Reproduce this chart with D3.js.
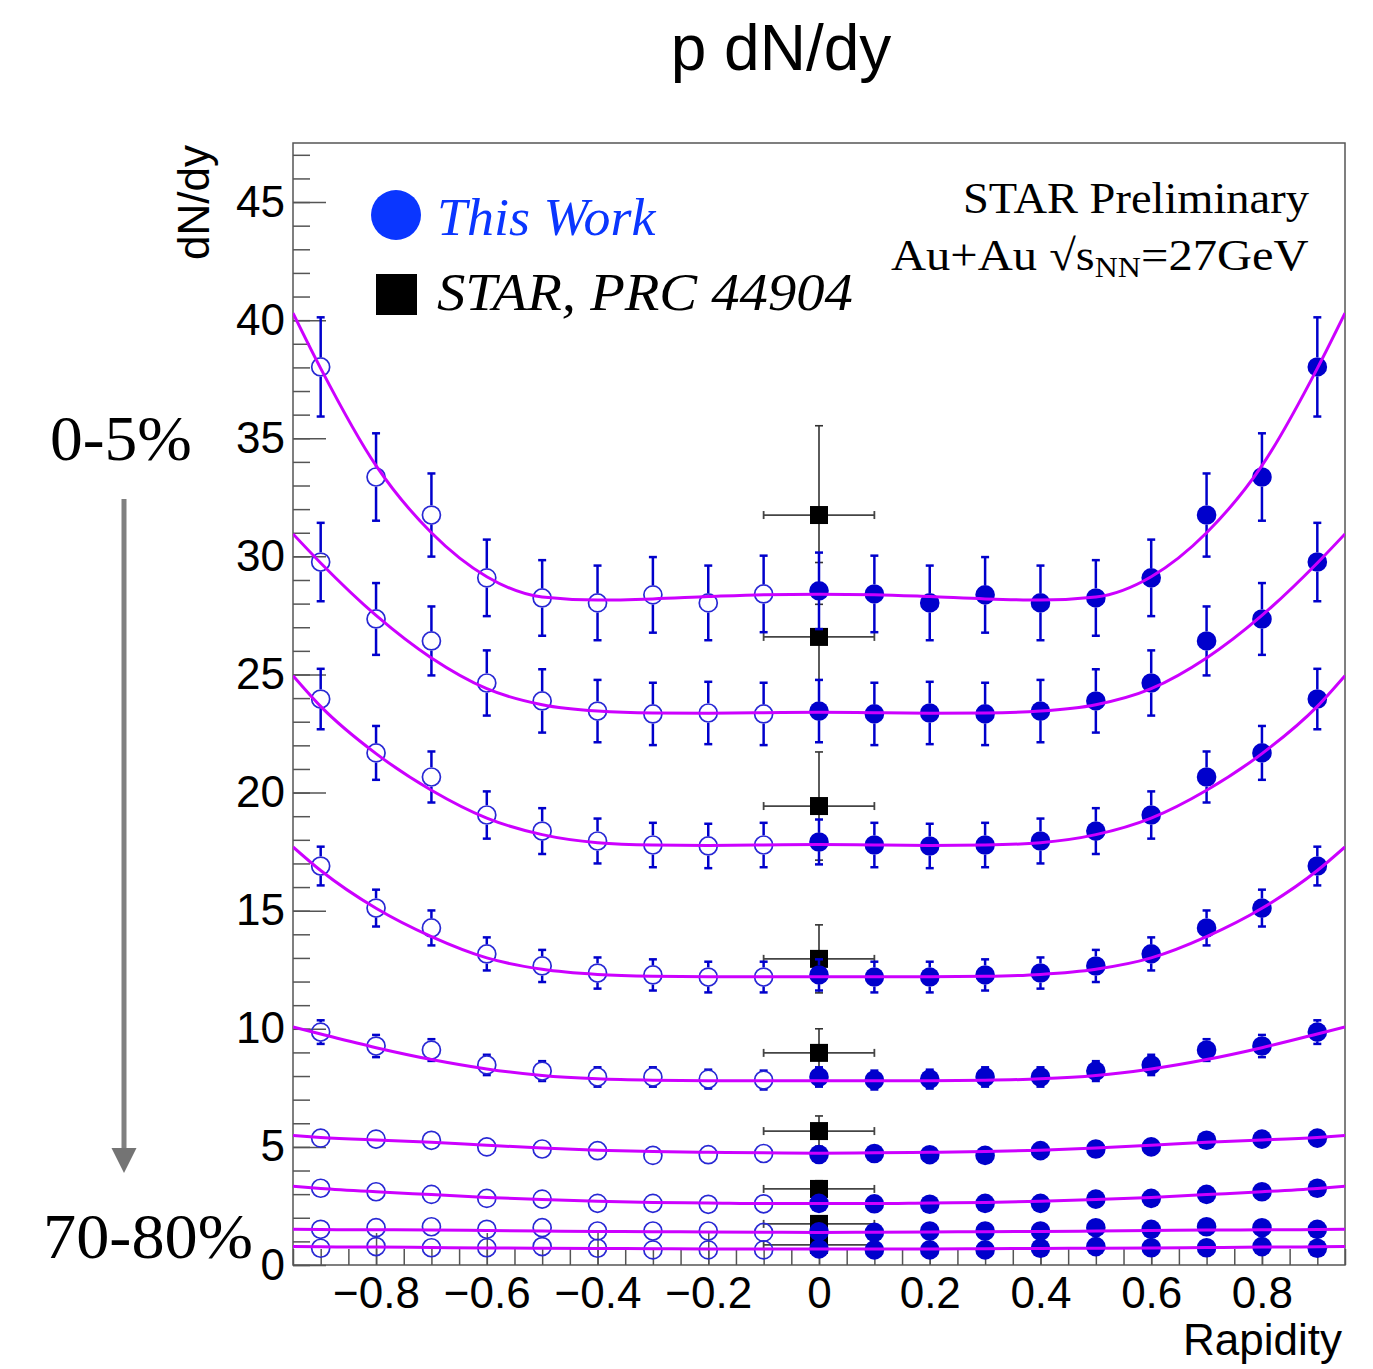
<!DOCTYPE html>
<html><head><meta charset="utf-8">
<script src="https://cdn.jsdelivr.net/npm/d3@7"></script>
<style>body{margin:0;background:#fff} svg{display:block}</style>
</head><body>
<svg id="chart" width="1373" height="1369"></svg>
<script>
// ---------- data ----------
const rapidity = [0, 0.1, 0.2, 0.3, 0.4, 0.5, 0.6, 0.7, 0.8, 0.9];
const reflectedRapidity = [-0.1, -0.2, -0.3, -0.4, -0.5, -0.6, -0.7, -0.8, -0.9];
const centralityLabels = ["0-5%", "5-10%", "10-20%", "20-30%", "30-40%", "40-50%", "50-60%", "60-70%", "70-80%"];

const dndy_0_5   = [28.54, 28.41, 28.03, 28.37, 28.03, 28.24, 29.09, 31.75, 33.36, 38.02];
const err_0_5    = [1.62, 1.62, 1.58, 1.60, 1.58, 1.60, 1.62, 1.76, 1.85, 2.10];
const dndy_5_10  = [23.45, 23.33, 23.37, 23.33, 23.45, 23.88, 24.64, 26.42, 27.35, 29.76];
const err_5_10   = [1.32, 1.32, 1.32, 1.32, 1.32, 1.34, 1.38, 1.46, 1.52, 1.66];
const dndy_10_20 = [17.91, 17.78, 17.74, 17.78, 17.95, 18.37, 19.05, 20.66, 21.68, 23.96];
const err_10_20  = [0.95, 0.94, 0.94, 0.94, 0.95, 0.97, 1.00, 1.08, 1.14, 1.28];
const dndy_20_30 = [12.28, 12.19, 12.19, 12.28, 12.36, 12.66, 13.17, 14.27, 15.11, 16.89];
const err_20_30  = [0.66, 0.65, 0.65, 0.66, 0.66, 0.68, 0.70, 0.74, 0.78, 0.82];
const dndy_30_40 = [7.96, 7.83, 7.87, 7.96, 7.96, 8.21, 8.47, 9.10, 9.27, 9.86];
const err_30_40  = [0.41, 0.40, 0.40, 0.41, 0.41, 0.42, 0.43, 0.46, 0.47, 0.50];
const dndy_40_50 = [4.68, 4.72, 4.67, 4.64, 4.84, 4.91, 5.00, 5.28, 5.33, 5.37];
const err_40_50  = [0.24, 0.24, 0.24, 0.24, 0.25, 0.25, 0.26, 0.27, 0.27, 0.28];
const dndy_50_60 = [2.61, 2.59, 2.57, 2.61, 2.61, 2.79, 2.82, 2.99, 3.10, 3.25];
const err_50_60  = [0.13, 0.13, 0.13, 0.13, 0.13, 0.14, 0.14, 0.15, 0.15, 0.16];
const dndy_60_70 = [1.41, 1.38, 1.44, 1.44, 1.44, 1.58, 1.51, 1.62, 1.58, 1.51];
const err_60_70  = [0.07, 0.07, 0.07, 0.07, 0.07, 0.08, 0.08, 0.08, 0.08, 0.08];
const dndy_70_80 = [0.68, 0.64, 0.64, 0.64, 0.71, 0.78, 0.73, 0.73, 0.78, 0.71];
const err_70_80  = [0.04, 0.04, 0.04, 0.04, 0.04, 0.04, 0.04, 0.04, 0.04, 0.04];

// fit curves, read at these rapidities (symmetric in y)
const fitRapidity = [0, 0.1, 0.2, 0.3, 0.4, 0.5, 0.6, 0.7, 0.8, 0.9, 0.95];
const fit_0_5   = [28.40, 28.38, 28.30, 28.20, 28.15, 28.28, 29.14, 31.00, 33.84, 37.96, 40.30];
const fit_5_10  = [23.40, 23.38, 23.36, 23.37, 23.45, 23.72, 24.40, 25.70, 27.50, 29.72, 30.95];
const fit_10_20 = [17.80, 17.78, 17.76, 17.78, 17.88, 18.22, 18.92, 20.10, 21.65, 23.65, 24.95];
const fit_20_30 = [12.20, 12.20, 12.20, 12.22, 12.30, 12.52, 13.00, 13.90, 15.10, 16.70, 17.70];
const fit_30_40 = [7.80, 7.80, 7.80, 7.82, 7.88, 8.02, 8.30, 8.70, 9.20, 9.78, 10.08];
const fit_40_50 = [4.73, 4.75, 4.77, 4.80, 4.86, 4.95, 5.07, 5.20, 5.29, 5.40, 5.48];
const fit_50_60 = [2.60, 2.60, 2.63, 2.65, 2.70, 2.77, 2.86, 2.98, 3.10, 3.24, 3.33];
const fit_60_70 = [1.38, 1.39, 1.40, 1.41, 1.42, 1.44, 1.46, 1.48, 1.49, 1.50, 1.51];
const fit_70_80 = [0.68, 0.68, 0.68, 0.69, 0.70, 0.71, 0.72, 0.74, 0.76, 0.77, 0.78];

// STAR PRC published, at y = 0 (+-0.1 rapidity window)
const starRapidity = 0;
const starWindow = 0.1;
const starValues = [31.75, 26.59, 19.43, 12.96, 8.98, 5.67, 3.22, 1.74, 0.85];
const starErrors = [3.78, 3.15, 2.29, 1.44, 1.02, 0.64, 0.35, 0.20, 0.10];

const yTickValues = [0, 5, 10, 15, 20, 25, 30, 35, 40, 45];
const xTickValues = [-0.8, -0.6, -0.4, -0.2, 0, 0.2, 0.4, 0.6, 0.8];

const series = [
  [dndy_0_5, err_0_5, fit_0_5], [dndy_5_10, err_5_10, fit_5_10], [dndy_10_20, err_10_20, fit_10_20],
  [dndy_20_30, err_20_30, fit_20_30], [dndy_30_40, err_30_40, fit_30_40], [dndy_40_50, err_40_50, fit_40_50],
  [dndy_50_60, err_50_60, fit_50_60], [dndy_60_70, err_60_70, fit_60_70], [dndy_70_80, err_70_80, fit_70_80]
];

// ---------- drawing ----------
const svg = d3.select("#chart");
const SANS = "'Liberation Sans', Arial, Helvetica, sans-serif";
const SERIF = "'Liberation Serif', 'Times New Roman', serif";
const L = 293, R = 1345, T = 143, B = 1265;
const x = d3.scaleLinear().domain([-0.95, 0.95]).range([L, R]);
const y = d3.scaleLinear().domain([0, 47.5]).range([B, T]);

svg.append("rect").attr("width", 1373).attr("height", 1369).attr("fill", "#fff");
svg.append("defs").append("clipPath").attr("id", "clip")
  .append("rect").attr("x", L).attr("y", T).attr("width", R - L).attr("height", B - T);

const AX = "#555";
// y axis minor / major ticks
const yMinor = d3.axisLeft(y).tickValues(d3.range(0, 48, 1)).tickSize(-17).tickFormat("");
const yMajor = d3.axisLeft(y).tickValues(yTickValues).tickSize(-33).tickFormat(d3.format("d"));
const gyMin = svg.append("g").attr("transform", `translate(${L},0)`).call(yMinor);
const gyMaj = svg.append("g").attr("transform", `translate(${L},0)`).call(yMajor);
[gyMin, gyMaj].forEach(g => { g.select(".domain").remove(); g.selectAll("line").attr("stroke", AX).attr("stroke-width", 1.5); });
gyMaj.selectAll("text").attr("x", -8).attr("font-family", SANS).attr("font-size", 44).attr("fill", "#000");

// x axis
const xMinor = d3.axisBottom(x).tickValues(d3.range(-19, 20).map(i => i * 0.05)).tickSize(-16).tickFormat("");
const fmtX = d => d === 0 ? "0" : (d < 0 ? "\u2212" : "") + Math.abs(d).toFixed(1);
const xMajor = d3.axisBottom(x).tickValues(xTickValues).tickSize(-32).tickFormat(fmtX);
const gxMin = svg.append("g").attr("transform", `translate(0,${B})`).call(xMinor);
const gxMaj = svg.append("g").attr("transform", `translate(0,${B})`).call(xMajor);
[gxMin, gxMaj].forEach(g => { g.select(".domain").remove(); g.selectAll("line").attr("stroke", AX).attr("stroke-width", 1.5); });
gxMaj.selectAll("text").attr("y", 12).attr("font-family", SANS).attr("font-size", 44).attr("fill", "#000");

// frame
svg.append("rect").attr("x", L).attr("y", T).attr("width", R - L).attr("height", B - T)
  .attr("fill", "none").attr("stroke", AX).attr("stroke-width", 1.5);

const plot = svg.append("g").attr("clip-path", "url(#clip)");

// STAR points (drawn first)
const starG = plot.append("g");
starValues.forEach((v, i) => {
  const cx = x(starRapidity), cy = y(v);
  const e = starErrors[i];
  starG.append("line").attr("x1", x(starRapidity - starWindow)).attr("x2", x(starRapidity + starWindow))
    .attr("y1", cy).attr("y2", cy).attr("stroke", "#444").attr("stroke-width", 1.8);
  [starRapidity - starWindow, starRapidity + starWindow].forEach(xe =>
    starG.append("line").attr("x1", x(xe)).attr("x2", x(xe)).attr("y1", cy - 4).attr("y2", cy + 4)
      .attr("stroke", "#444").attr("stroke-width", 1.8));
  starG.append("line").attr("x1", cx).attr("x2", cx).attr("y1", y(v + e)).attr("y2", y(v - e))
    .attr("stroke", "#333").attr("stroke-width", 1.6);
  [v + e, v - e].forEach(ve =>
    starG.append("line").attr("x1", cx - 4).attr("x2", cx + 4).attr("y1", y(ve)).attr("y2", y(ve))
      .attr("stroke", "#333").attr("stroke-width", 1.6));
  starG.append("rect").attr("x", cx - 9).attr("y", cy - 9).attr("width", 18).attr("height", 18).attr("fill", "#000");
});

// This work points
const BLUE = "#0000cc";
const RF = 9.8, RO = 9.0;
const ptsG = plot.append("g");
function errBar(g, cx, v, e, r) {
  const yt = y(v + e), yb = y(v - e), cy = y(v);
  if (cy - yt > r - 1) {
    g.append("line").attr("x1", cx).attr("x2", cx).attr("y1", yt).attr("y2", cy - r).attr("stroke", BLUE).attr("stroke-width", 2.5);
    g.append("line").attr("x1", cx - 4).attr("x2", cx + 4).attr("y1", yt).attr("y2", yt).attr("stroke", BLUE).attr("stroke-width", 2.5);
  }
  if (yb - cy > r - 1) {
    g.append("line").attr("x1", cx).attr("x2", cx).attr("y1", cy + r).attr("y2", yb).attr("stroke", BLUE).attr("stroke-width", 2.5);
    g.append("line").attr("x1", cx - 4).attr("x2", cx + 4).attr("y1", yb).attr("y2", yb).attr("stroke", BLUE).attr("stroke-width", 2.5);
  }
}
series.forEach(([vals, errs]) => {
  // open markers: reflected rapidity
  reflectedRapidity.forEach((ry, k) => {
    const v = vals[k + 1], e = errs[k + 1];
    errBar(ptsG, x(ry), v, e, RO + 0.8);
    ptsG.append("circle").attr("cx", x(ry)).attr("cy", y(v)).attr("r", RO)
      .attr("fill", "none").attr("stroke", "#2828d4").attr("stroke-width", 1.7);
  });
  // filled markers
  rapidity.forEach((ry, k) => {
    const v = vals[k], e = errs[k];
    errBar(ptsG, x(ry), v, e, RF);
    ptsG.append("circle").attr("cx", x(ry)).attr("cy", y(v)).attr("r", RF).attr("fill", BLUE);
  });
});

// fit curves
const line = d3.line().x(d => x(d[0])).y(d => y(d[1])).curve(d3.curveMonotoneX);
series.forEach(([, , fit]) => {
  const pts = [];
  for (let k = fitRapidity.length - 1; k > 0; k--) pts.push([-fitRapidity[k], fit[k]]);
  fitRapidity.forEach((r, k) => pts.push([r, fit[k]]));
  plot.append("path").attr("d", line(pts)).attr("fill", "none").attr("stroke", "#cc00ff").attr("stroke-width", 3);
});

// ---------- texts ----------
function fitWidth(sel, x0, targetW) {
  const bb = sel.node().getBBox();
  const s = targetW / bb.width;
  sel.attr("transform", `translate(${x0},0) scale(${s},1) translate(${-bb.x},0)`);
}

svg.append("text").attr("x", 781).attr("y", 70).attr("text-anchor", "middle").attr("font-family", SANS)
  .attr("font-size", 64).attr("fill", "#000").text("p dN/dy");

svg.append("text").attr("transform", "translate(209,145) rotate(-90)").attr("text-anchor", "end")
  .attr("font-family", SANS).attr("font-size", 44).attr("fill", "#000").text("dN/dy");

svg.append("text").attr("x", 1342).attr("y", 1355).attr("text-anchor", "end")
  .attr("font-family", SANS).attr("font-size", 44).attr("fill", "#000").text("Rapidity");

// legend
const LBLUE = "#0a36ff";
svg.append("circle").attr("cx", 396).attr("cy", 215).attr("r", 25).attr("fill", LBLUE);
svg.append("rect").attr("x", 376).attr("y", 274).attr("width", 41).attr("height", 41).attr("fill", "#000");
const t1 = svg.append("text").attr("x", 0).attr("y", 235).attr("font-family", SERIF).attr("font-style", "italic")
  .attr("font-size", 53).attr("fill", LBLUE).text("This Work");
fitWidth(t1, 437, 220);
const t2 = svg.append("text").attr("x", 0).attr("y", 310).attr("font-family", SERIF).attr("font-style", "italic")
  .attr("font-size", 53).attr("fill", "#000").text("STAR, PRC 44904");
fitWidth(t2, 437, 416);

const t3 = svg.append("text").attr("x", 0).attr("y", 213).attr("font-family", SERIF)
  .attr("font-size", 44).attr("fill", "#000").text("STAR Preliminary");
fitWidth(t3, 963, 346);
const t4 = svg.append("text").attr("x", 0).attr("y", 270).attr("font-family", SERIF)
  .attr("font-size", 44).attr("fill", "#000");
t4.append("tspan").text("Au+Au \u221As");
t4.append("tspan").attr("font-size", 29).attr("dy", 7).text("NN");
t4.append("tspan").attr("dy", -7).text("=27GeV");
fitWidth(t4, 891, 418);

// centrality annotation
const t5 = svg.append("text").attr("x", 0).attr("y", 460).attr("font-family", SERIF)
  .attr("font-size", 64).attr("fill", "#000").text(centralityLabels[0]);
fitWidth(t5, 50, 142);
const t6 = svg.append("text").attr("x", 0).attr("y", 1258).attr("font-family", SERIF)
  .attr("font-size", 64).attr("fill", "#000").text(centralityLabels[centralityLabels.length - 1]);
fitWidth(t6, 43, 210);

svg.append("line").attr("x1", 124).attr("x2", 124).attr("y1", 499).attr("y2", 1150)
  .attr("stroke", "#808080").attr("stroke-width", 5);
svg.append("path").attr("d", "M111.5,1148 L136.5,1148 L124,1173 Z").attr("fill", "#747474");
</script>
</body></html>
